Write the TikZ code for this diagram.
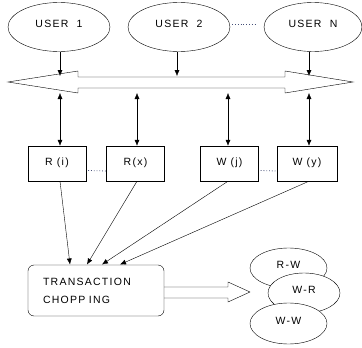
\documentclass[tikz,border=0pt]{standalone}
\usepackage{fontspec}
\setmainfont{Liberation Sans}[LetterSpace=12]
\usetikzlibrary{arrows.meta,positioning,shapes.geometric}

\definecolor{dotcol}{RGB}{70,80,120}

\tikzset{
  user/.style={ellipse,draw,thin,minimum width=102pt,minimum height=49pt,inner sep=0pt},
  opbox/.style={rectangle,draw,thin,minimum width=58pt,minimum height=35pt,inner sep=0pt},
  conf/.style={ellipse,draw,thin,fill=white,minimum width=77pt,minimum height=40pt,inner sep=0pt},
  link/.style={-{Latex[length=6pt,width=5pt]},thin},
  both/.style={{Latex[length=6pt,width=5pt]}-{Latex[length=6pt,width=5pt]},thin},
  dots/.style={dotted,thick,dotcol}
}

\begin{document}
\begin{tikzpicture}[x=1pt,y=-1pt,font=\fontsize{10.5}{12}\selectfont]
\useasboundingbox (0,0) rectangle (362,348);
% users
\node[user] (u1) at (59,27) {\raisebox{7pt}{USER\ \ 1}};
\node[user] (u2) at (179,27) {\raisebox{7pt}{USER\ \ 2}};
\node[user,minimum width=98pt] (un) at (313,27) {\raisebox{7pt}{USER\ \ N}};
\draw[dots] (u2.east) ++(2pt,3pt) -- ++(24pt,0);

% shared bus (hollow double arrow)
\draw[thin] (8,82) -- (78,71) -- (78,77) -- (285,77) -- (285,71) -- (353,82)
  -- (285,93) -- (285,88) -- (78,88) -- (78,93) -- cycle;
\coordinate (b1) at (60,76);
\coordinate (b2) at (177,76);
\coordinate (b3) at (309,76);
\draw[link] (u1.south) ++(1pt,0) -- (b1);
\draw[link] (u2.south) ++(-2pt,0) -- (b2);
\draw[link] (un.south) ++(-4pt,0) -- (b3);

% read / write operations
\node[opbox] (ri) at (57,163.5) {\raisebox{4pt}{R (i)}};
\node[opbox] (rx) at (135.5,163.5) {\raisebox{4pt}{R(x)}};
\node[opbox] (wj) at (229.5,163.5) {\raisebox{4pt}{W (j)}};
\node[opbox,minimum width=60pt] (wy) at (307,163.5) {\raisebox{4pt}{W (y)}};
\draw[dots] ([yshift=-7pt]ri.east) ++(2pt,0) -- (rx.west |- 0,171);
\draw[dots] ([yshift=-7pt]wj.east) ++(2pt,0) -- (wy.west |- 0,171);

\draw[both] (b1 |- 0,93) -- (b1 |- ri.north);
\draw[both] (137,93) -- (rx.north -| 137,0);
\draw[both] (228,93) -- (wj.north -| 228,0);
\draw[both] (b3 |- 0,93) -- (b3 |- wy.north);

% chopping
\node[rectangle,rounded corners=6pt,draw,thin,minimum width=136pt,minimum height=51pt,
  align=left,text width=106pt,inner sep=0pt] (tc) at (96,290.5)
  {TRANSACTION\\[6pt]CHOPP\ ING};
\draw[link] (ri.south -| 60,0) -- (70,264.5);
\draw[link] (rx.south -| 137,0) -- (87,264.5);
\draw[link] (wj.south -| 228,0) -- (102,264.5);
\draw[link] (wy.south -| 309,0) -- (120,264.5);

\draw[thin] (tc.east |- 0,287) -- (228,287) -- (228,282) -- (250,292) -- (228,302)
  -- (228,298) -- (tc.east |- 0,298);

% conflict types
\node[conf] (rw) at (288.5,268) {\raisebox{6pt}{R-W}};
\node[conf,minimum width=72pt] (wr) at (304,293) {\raisebox{6pt}{W-R}};
\node[conf,minimum height=41pt] (ww) at (288.5,323.5) {\raisebox{5pt}{W-W}};
\end{tikzpicture}
\end{document}
